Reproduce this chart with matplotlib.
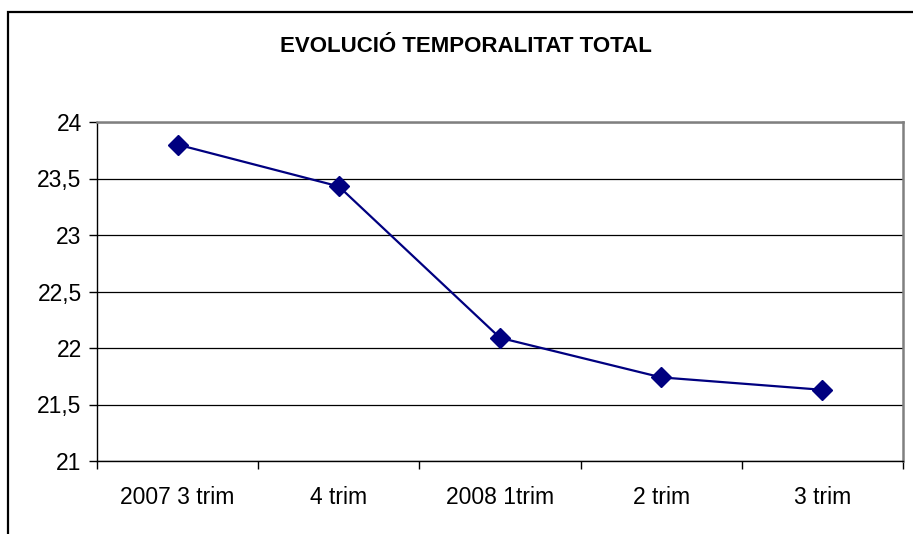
import matplotlib.pyplot as plt
from matplotlib.patches import Rectangle

categories = ['2007 3 trim', '4 trim', '2008 1trim', '2 trim', '3 trim']
values = [23.8, 23.43, 22.09, 21.74, 21.63]
y_ticks = [21, 21.5, 22, 22.5, 23, 23.5, 24]
y_labels = ['21', '21,5', '22', '22,5', '23', '23,5', '24']

plt.rcParams['font.family'] = ['Liberation Sans', 'DejaVu Sans']

W, H = 913, 534
fig = plt.figure(figsize=(W / 100, H / 100), dpi=100)

# outer chart border (only left and top visible in the crop)
fig.patches.append(Rectangle((8 / W, -0.1), 1.2, (H - 12) / H + 0.1, transform=fig.transFigure,
                             fill=False, edgecolor='black', linewidth=1.6))

left, top, right, bottom = 97, 122, 903, 461
ax = fig.add_axes([left / W, 1 - bottom / H, (right - left) / W, (bottom - top) / H])

x = list(range(len(categories)))
ax.plot(x, values, color='#000080', linewidth=1.6, marker='D', markersize=10,
        markerfacecolor='#000080', markeredgecolor='#000080', zorder=3)

ax.set_xlim(-0.5, len(categories) - 0.5)
ax.set_ylim(21, 24)
ax.set_yticks(y_ticks)
ax.set_yticklabels(y_labels)
ax.set_xticks(x)
ax.set_xticklabels(categories)
ax.set_xticks([i - 0.5 for i in range(len(categories) + 1)], minor=True)

ax.grid(axis='y', color='black', linewidth=0.9)
ax.set_axisbelow(True)

ax.tick_params(axis='x', which='major', length=0, pad=18, labelsize=16.5)
ax.tick_params(axis='x', which='minor', length=6, width=1, color='black')
ax.tick_params(axis='y', length=6, width=1, color='black', pad=5, labelsize=16.5)

for s in ['top', 'right']:
    ax.spines[s].set_color('#808080')
    ax.spines[s].set_linewidth(1.8)
for s in ['left', 'bottom']:
    ax.spines[s].set_color('black')
    ax.spines[s].set_linewidth(1)

fig.text(466 / W, 1 - 46 / H, 'EVOLUCIÓ TEMPORALITAT TOTAL', ha='center', va='center',
         fontsize=16, fontweight='bold')

fig.savefig('out.png', dpi=100)
